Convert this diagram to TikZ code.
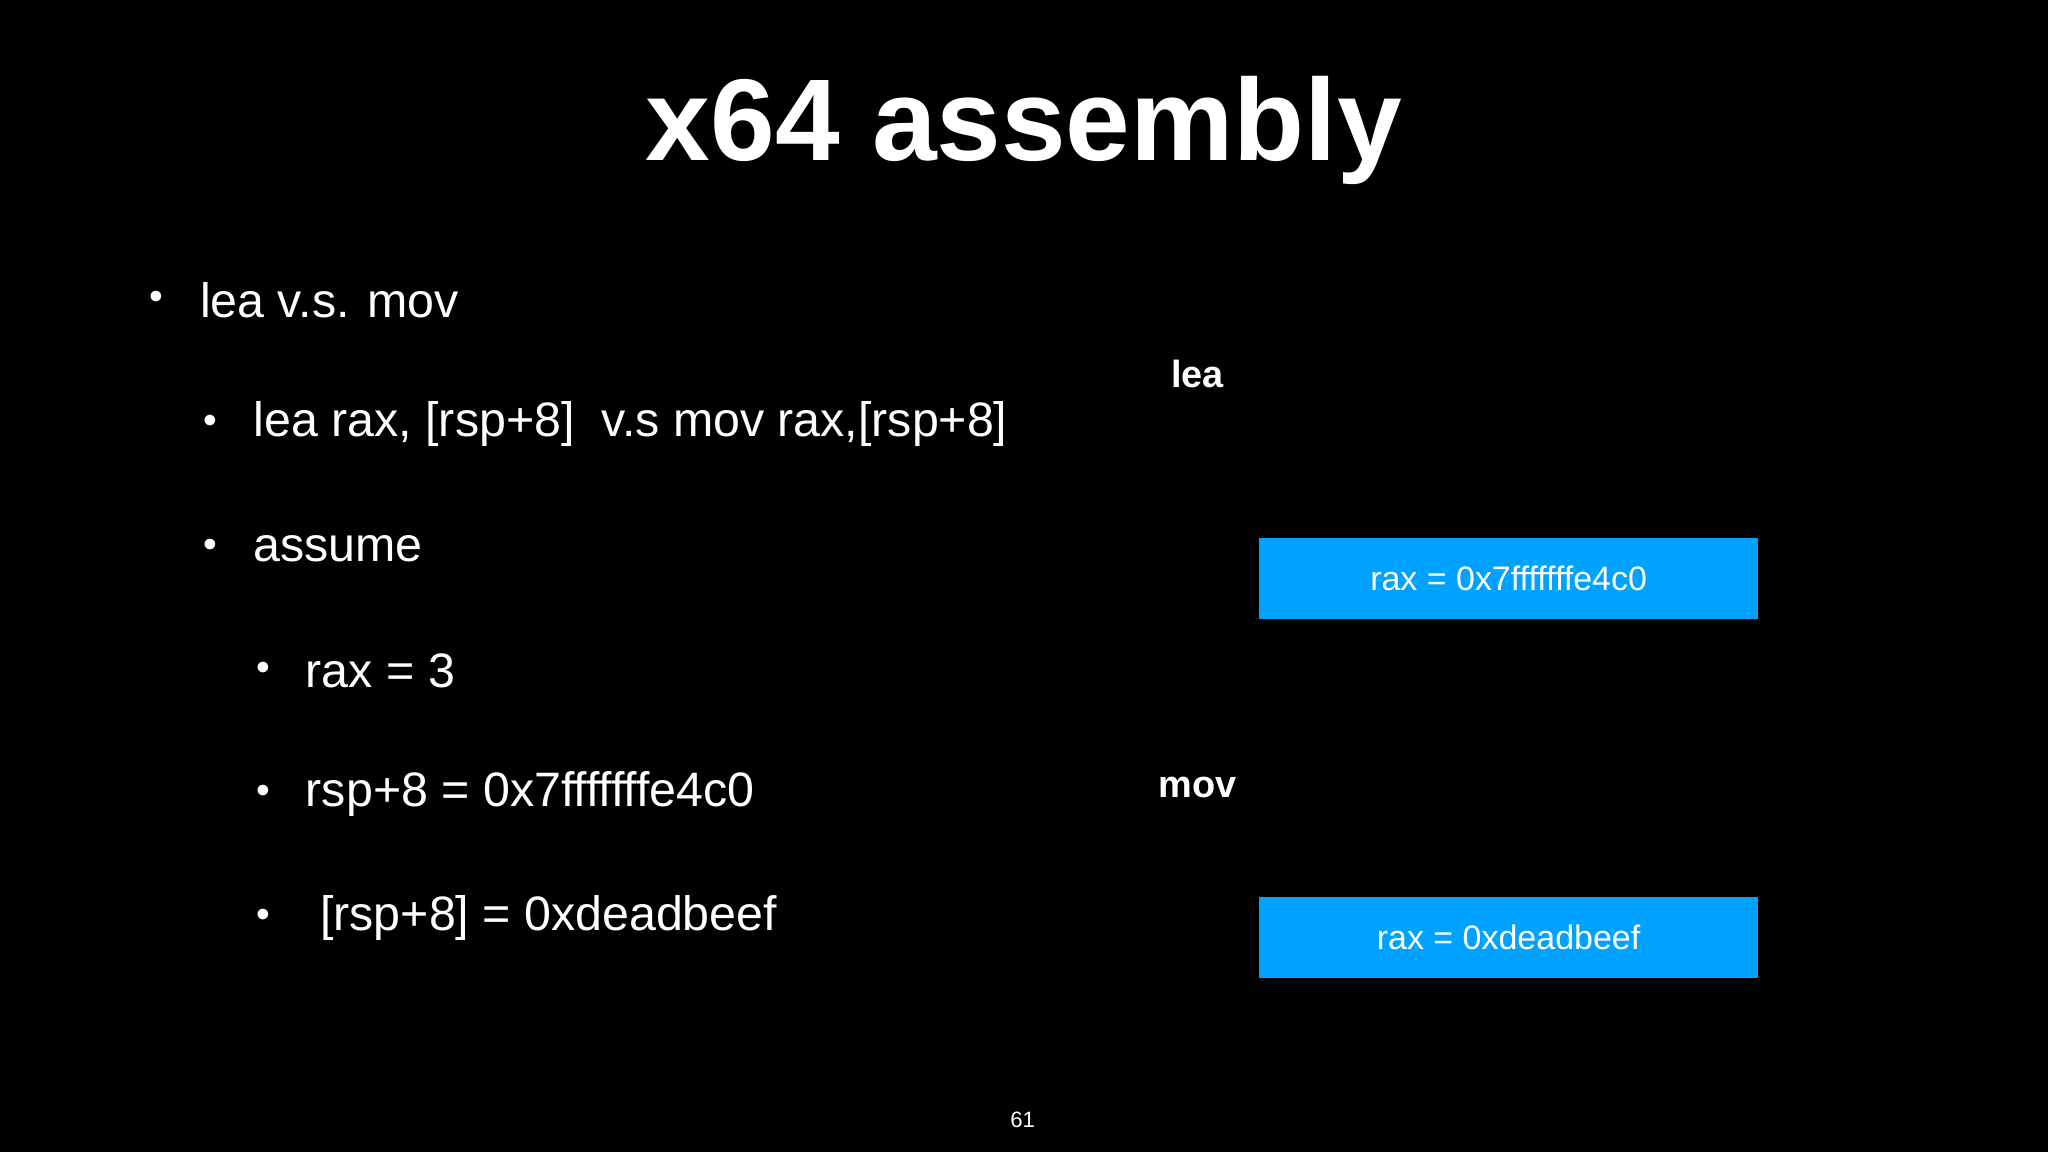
\documentclass[tikz,border=0pt]{standalone}
\usepackage{fontspec}
\setmainfont{Liberation Sans}
\definecolor{boxblue}{HTML}{00A2FF}
\tikzset{
 body/.style={anchor=west,text=white,font=\fontsize{37}{40}\selectfont,inner sep=0},
 bul/.style={text=white,font=\fontsize{30}{32}\selectfont,inner sep=0},
 lbl/.style={text=white,font=\bfseries\fontsize{29}{32}\selectfont,inner sep=0},
 bluebox/.style={fill=boxblue,draw=none,minimum width=382pt,minimum height=62pt,text=white,font=\fontsize{26}{28}\selectfont,inner sep=0}
}
\begin{document}
\begin{tikzpicture}[x=1pt,y=-1pt]
\fill[black] (0,0) rectangle (1568,882);
\useasboundingbox (0,0) rectangle (1568,882);
\node[text=white,font=\bfseries\fontsize{89}{92}\selectfont,inner sep=0] (title) at (784,100) {x64 assembly};
\node[bul] (b1) at (120,230) {•};
\node[body] (t1) at (153,230) {lea v.s. mov};
\node[bul] (b2) at (161,325) {•};
\node[body] (t2) at (194,325) {lea rax, [rsp+8]\ \ v.s mov rax,[rsp+8]};
\node[bul] (b3) at (161,420) {•};
\node[body] (t3) at (194,420) {assume};
\node[bul] (b4) at (202,514) {•};
\node[body] (t4) at (234,514) {rax = 3};
\node[bul] (b5) at (202,608) {•};
\node[body] (t5) at (234,608) {rsp+8 = 0x7fffffffe4c0};
\node[bul] (b6) at (202,703) {•};
\node[body] (t6) at (245,703) {[rsp+8] = 0xdeadbeef};
\node[lbl] (lea) at (917,286) {lea};
\node[lbl] (mov) at (917,603) {mov};
\node[bluebox] (box1) at (1155,443) {rax = 0x7fffffffe4c0};
\node[bluebox] (box2) at (1155,718) {rax = 0xdeadbeef};
\node[text=white,font=\fontsize{17}{18}\selectfont,inner sep=0] (pg) at (783,857) {61};
\end{tikzpicture}
\end{document}
